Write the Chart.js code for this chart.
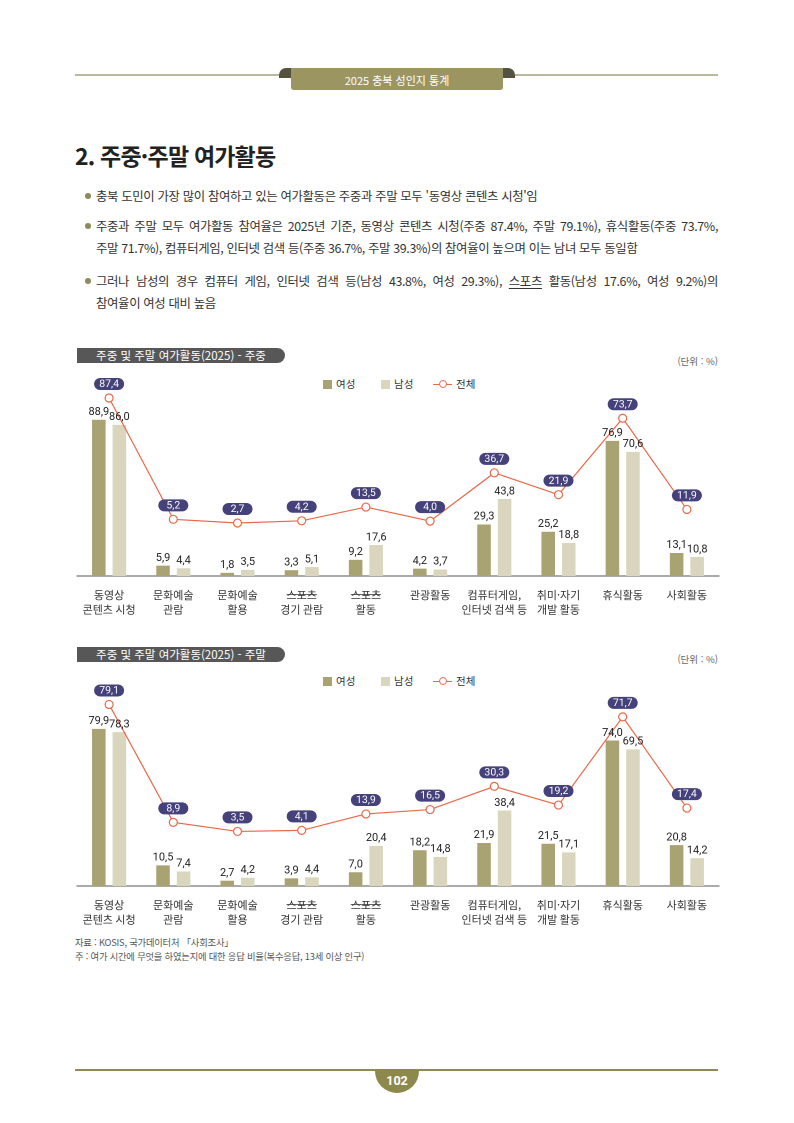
<!DOCTYPE html>
<html lang="ko">
<head>
<meta charset="UTF-8">
<title>주중·주말 여가활동</title>
<style>
  * { box-sizing: border-box; margin: 0; padding: 0; }
  body { width: 794px; height: 1123px; background: #fff; font-family: "Noto Sans CJK KR", "Noto Sans", sans-serif; color: #333; }
  .page { position: relative; width: 794px; height: 1123px; overflow: hidden; }
  .abs { position: absolute; }

  .topline { left: 75px; top: 74px; width: 643px; height: 2px; background: #bbb99b; }
  .ears { left: 279px; top: 68px; width: 236px; height: 10px; background: #55523f; border-radius: 7px 7px 0 0; }
  .tab { left: 291px; top: 68px; width: 212px; height: 22px; background: #9b9561; border-radius: 0 0 3px 3px;
         color: #fff; font-size: 11px; text-align: center; line-height: 24px; }

  .title { left: 75px; top: 138px; font-size: 23px; font-weight: 700; color: #222; letter-spacing: -0.8px; }

  .bullet { left: 85px; font-size: 12.4px; color: #333; letter-spacing: -0.35px; line-height: 22px; white-space: nowrap; }
  .bullet .dot { display: inline-block; width: 6px; height: 6px; border-radius: 50%; background: #8c8a5e; margin-right: 5px; vertical-align: 2px; }
  .bullet .just { width: 633px; text-align: justify; text-align-last: justify; }
  .bullet .cont { padding-left: 11px; }
  .u { text-decoration: underline; text-underline-offset: 2px; }

  .ctitle { left: 77px; width: 208px; height: 15px; background: #575757; border-radius: 0 8px 8px 0;
            color: #fff; font-size: 11.5px; text-align: center; line-height: 15px; }
  .unit { right: 76px; font-size: 9.5px; color: #666; }

  .legend { font-size: 10.5px; color: #333; height: 12px; }
  .legend span { position: absolute; top: 0; line-height: 12px; white-space: nowrap; }
  .legend .sq { width: 9px; height: 9px; top: 1.5px; }
  .legend .ln { width: 19px; height: 1.2px; top: 6px; background: #e8694a; }
  .legend .pt { width: 8px; height: 8px; top: 2px; border: 1.2px solid #e8694a; border-radius: 50%; background: #fff; }

  canvas { position: absolute; }

  .foot { left: 75px; font-size: 9.3px; color: #555; white-space: nowrap; letter-spacing: -0.2px; }
  .botline { left: 75px; top: 1069px; width: 643px; height: 1.5px; background: #8f8a55; }
  .badge { left: 375px; top: 1069px; width: 44px; height: 24px; background: #8d884b; border-radius: 0 0 22px 22px;
           color: #fff; font-size: 12.5px; font-weight: 700; text-align: center; line-height: 24px; font-family: Roboto, sans-serif; }
</style>
</head>
<body>
<div class="page">
  <div class="abs topline"></div>
  <div class="abs ears"></div>
  <div class="abs tab">2025 충북 성인지 통계</div>

  <div class="abs title">2. 주중·주말 여가활동</div>

  <div class="abs bullet" style="top:185px"><span class="dot"></span>충북 도민이 가장 많이 참여하고 있는 여가활동은 주중과 주말 모두 '동영상 콘텐츠 시청'임</div>
  <div class="abs bullet" style="top:215px">
    <div class="just"><span class="dot"></span>주중과 주말 모두 여가활동 참여율은 2025년 기준, 동영상 콘텐츠 시청(주중 87.4%, 주말 79.1%), 휴식활동(주중 73.7%,</div>
    <div class="cont">주말 71.7%), 컴퓨터게임, 인터넷 검색 등(주중 36.7%, 주말 39.3%)의 참여율이 높으며 이는 남녀 모두 동일함</div>
  </div>
  <div class="abs bullet" style="top:270px">
    <div class="just"><span class="dot"></span>그러나 남성의 경우 컴퓨터 게임, 인터넷 검색 등(남성 43.8%, 여성 29.3%), <span class="u">스포츠</span> 활동(남성 17.6%, 여성 9.2%)의</div>
    <div class="cont">참여율이 여성 대비 높음</div>
  </div>

  <!-- 주중 -->
  <div class="abs ctitle" style="top:348px">주중 및 주말 여가활동(2025) - 주중</div>
  <div class="abs unit" style="top:354px">(단위 : %)</div>
  <div class="abs legend" style="left:0; top:378px; width:794px">
    <span class="sq" style="left:323px; background:#a9a373"></span><span style="left:336px">여성</span>
    <span class="sq" style="left:381px; background:#dad6bd"></span><span style="left:394px">남성</span>
    <span class="ln" style="left:433px"></span><span class="pt" style="left:438.5px"></span><span style="left:456px">전체</span>
  </div>
  <canvas id="chart1" style="left:60px; top:370px; width:675px; height:250px"></canvas>

  <!-- 주말 -->
  <div class="abs ctitle" style="top:647px">주중 및 주말 여가활동(2025) - 주말</div>
  <div class="abs unit" style="top:652px">(단위 : %)</div>
  <div class="abs legend" style="left:0; top:675px; width:794px">
    <span class="sq" style="left:323px; background:#a9a373"></span><span style="left:336px">여성</span>
    <span class="sq" style="left:381px; background:#dad6bd"></span><span style="left:394px">남성</span>
    <span class="ln" style="left:433px"></span><span class="pt" style="left:438.5px"></span><span style="left:456px">전체</span>
  </div>
  <canvas id="chart2" style="left:60px; top:680px; width:675px; height:250px"></canvas>

  <div class="abs foot" style="top:935px">자료 : KOSIS, 국가데이터처 「사회조사」</div>
  <div class="abs foot" style="top:949px">주 : 여가 시간에 무엇을 하였는지에 대한 응답 비율(복수응답, 13세 이상 인구)</div>

  <div class="abs botline"></div>
  <div class="abs badge">102</div>
</div>

<script src="https://cdnjs.cloudflare.com/ajax/libs/Chart.js/4.4.1/chart.umd.min.js"></script>
<script>
// 항목
const categories = [
  ['동영상', '콘텐츠 시청'], ['문화예술', '관람'], ['문화예술', '활용'], ['스포츠', '경기 관람'], ['스포츠', '활동'],
  ['관광활동'], ['컴퓨터게임,', '인터넷 검색 등'], ['취미·자기', '개발 활동'], ['휴식활동'], ['사회활동']
];

// 주중
const weekdayFemale = [88.9, 5.9, 1.8, 3.3, 9.2, 4.2, 29.3, 25.2, 76.9, 13.1];
const weekdayMale   = [86.0, 4.4, 3.5, 5.1, 17.6, 3.7, 43.8, 18.8, 70.6, 10.8];
const weekdayTotal  = [87.4, 5.2, 2.7, 4.2, 13.5, 4.0, 36.7, 21.9, 73.7, 11.9];

// 주말
const weekendFemale = [79.9, 10.5, 2.7, 3.9, 7.0, 18.2, 21.9, 21.5, 74.0, 20.8];
const weekendMale   = [78.3, 7.4, 4.2, 4.4, 20.4, 14.8, 38.4, 17.1, 69.5, 14.2];
const weekendTotal  = [79.1, 8.9, 3.5, 4.1, 13.9, 16.5, 30.3, 19.2, 71.7, 17.4];

const fmt = v => v.toFixed(1).replace('.', ',');

// 막대 위 값, 전체 값 말풍선
const valueLabels = {
  id: 'valueLabels',
  afterDatasetsDraw(chart) {
    const ctx = chart.ctx;
    ctx.save();
    chart.data.datasets.forEach((ds, i) => {
      const meta = chart.getDatasetMeta(i);
      meta.data.forEach((el, j) => {
        const v = ds.data[j];
        if (meta.type === 'bar') {
          ctx.font = '11px Roboto, "Noto Sans", sans-serif';
          ctx.fillStyle = '#222';
          ctx.textAlign = 'center';
          ctx.textBaseline = 'bottom';
          ctx.fillText(fmt(v), el.x, el.y - 2);
        } else {
          const w = 30, h = 12, cy = el.y - 14;
          ctx.fillStyle = '#45417a';
          ctx.beginPath();
          ctx.roundRect(el.x - w / 2, cy - h / 2, w, h, 6);
          ctx.fill();
          ctx.font = '10.5px Roboto, "Noto Sans", sans-serif';
          ctx.fillStyle = '#fff';
          ctx.textAlign = 'center';
          ctx.textBaseline = 'middle';
          ctx.fillText(fmt(v), el.x, cy + 0.5);
        }
      });
    });
    ctx.restore();
  },
  afterDraw(chart) {
    // '스포츠' 밑줄
    const ctx = chart.ctx;
    const x = chart.scales.x;
    ctx.save();
    ctx.font = '11px "Noto Sans CJK KR", sans-serif';
    ctx.strokeStyle = '#333';
    ctx.lineWidth = 0.8;
    chart.data.labels.forEach((lab, i) => {
      if (lab[0] !== '스포츠') return;
      const cx = x.getPixelForTick(i);
      const w = ctx.measureText(lab[0]).width;
      const y = chart.chartArea.bottom + 18.5;
      ctx.beginPath();
      ctx.moveTo(cx - w / 2, y);
      ctx.lineTo(cx + w / 2, y);
      ctx.stroke();
    });
    ctx.restore();
  }
};

function makeChart(id, female, male, total, barMax, lineMin, lineMax) {
  return new Chart(document.getElementById(id), {
    type: 'bar',
    data: {
      labels: categories,
      datasets: [
        { type: 'line', label: '전체', data: total, yAxisID: 'y2', order: 0,
          borderColor: '#e8694a', borderWidth: 1.2, pointRadius: 4, pointBorderWidth: 1.2,
          pointBackgroundColor: '#fff', pointBorderColor: '#e8694a', tension: 0 },
        { label: '여성', data: female, yAxisID: 'y', order: 1, backgroundColor: '#a9a373',
          categoryPercentage: 0.64, barPercentage: 0.66 },
        { label: '남성', data: male, yAxisID: 'y', order: 1, backgroundColor: '#dad6bd',
          categoryPercentage: 0.64, barPercentage: 0.66 }
      ]
    },
    options: {
      responsive: false,
      animation: false,
      devicePixelRatio: 2,
      layout: { padding: { left: 17, right: 16, top: 10, bottom: 0 } },
      plugins: { legend: { display: false }, tooltip: { enabled: false } },
      scales: {
        x: {
          grid: { display: false },
          border: { display: true, color: '#555', width: 1 },
          ticks: { color: '#333', padding: 4, font: { family: '"Noto Sans CJK KR"', size: 11, lineHeight: 1.28 }, maxRotation: 0, autoSkip: false },
          afterFit(scale) { scale.height = 44; }
        },
        y: { display: false, min: 0, max: barMax },
        y2: { display: false, min: lineMin, max: lineMax }
      }
    },
    plugins: [valueLabels]
  });
}

makeChart('chart1', weekdayFemale, weekdayMale, weekdayTotal, 111.5, -33.2, 99.6);
makeChart('chart2', weekendFemale, weekendMale, weekendTotal, 99.7, -29.0, 87.7);
</script>
</body>
</html>
